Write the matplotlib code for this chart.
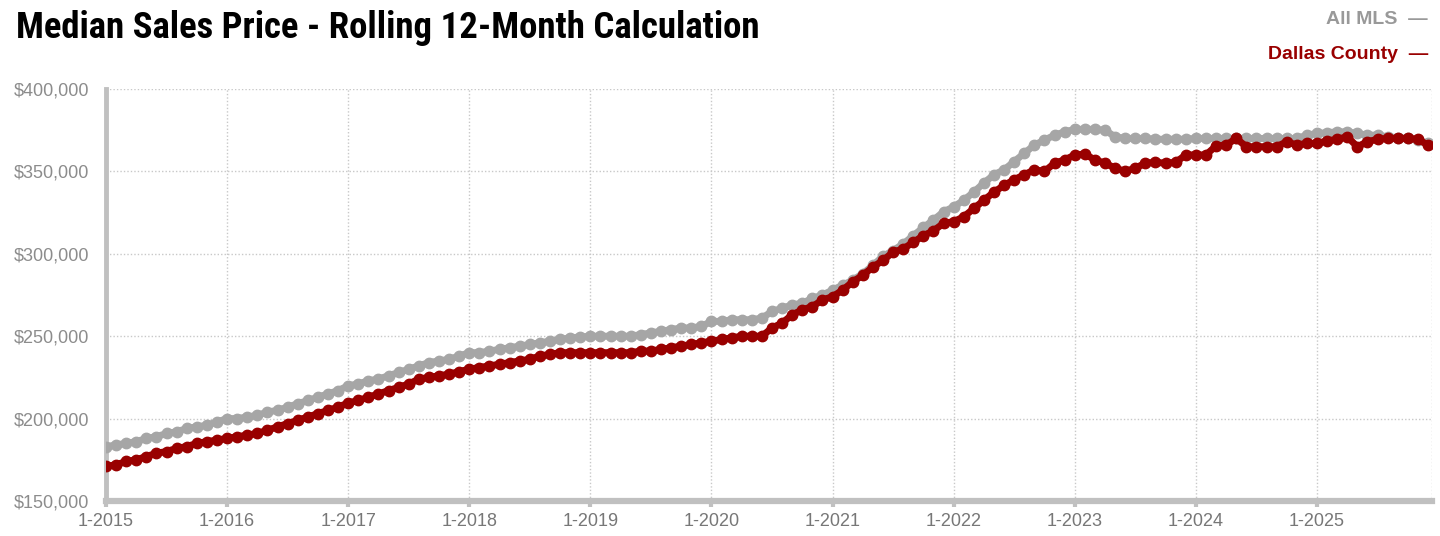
import numpy as np
import matplotlib.pyplot as plt
from matplotlib.ticker import FuncFormatter

# monthly values, 1-2015 .. 12-2025 (in $1,000)
all_mls = [
    183, 184, 185, 186, 188, 189, 191, 192, 194, 195, 196, 198,   # 2015
    200, 200, 201, 202, 204, 205, 207, 209, 211, 213, 215, 217,   # 2016
    220, 221, 223, 224, 226, 228, 230, 232, 234, 235, 236, 238,   # 2017
    240, 240, 241, 242, 243, 244, 245, 246, 247, 248, 249, 249.5, # 2018
    250, 250, 250, 250, 250, 251, 252, 253, 254, 255, 255, 256,   # 2019
    259, 259, 260, 260, 260, 261, 265, 267, 269, 270, 273, 275,   # 2020
    278, 281, 284, 288, 293, 298.5, 302, 306, 311, 316, 320.5, 325.5,  # 2021
    328.5, 332.5, 337.5, 343, 348, 351, 356, 361, 366, 369, 372, 374,  # 2022
    375.5, 375.5, 375.5, 375, 371, 370, 370, 370, 369.5, 369.5, 369.5, 369.5,  # 2023
    370, 370, 370, 370, 370, 370, 370, 370, 370, 370, 370, 372,   # 2024
    373, 373.5, 374, 374, 373, 372, 372, 371, 370.5, 370, 369, 367,  # 2025
]
dallas = [
    171, 172, 174, 175, 177, 179, 180, 182, 183, 185, 186, 187,   # 2015
    188, 189, 190, 191, 193, 195, 197, 199, 201, 203, 205, 207,   # 2016
    209.5, 211, 213, 215, 217, 219, 221, 224, 225, 226, 227, 228.5,  # 2017
    230, 231, 232, 233, 234, 235, 236, 238, 239, 240, 240, 240,   # 2018
    240, 240, 240, 240, 240, 241, 241, 242, 243, 244, 245, 246,   # 2019
    247, 248, 249, 250, 250, 250, 255, 258, 263, 266, 268, 272,   # 2020
    274, 278, 283, 287, 292, 296, 301, 303, 307, 311, 314, 318.5,  # 2021
    319.5, 322.5, 327.5, 332.5, 337.5, 341.5, 345, 348, 351, 350, 355, 357,  # 2022
    360, 360.5, 357, 355, 352, 350, 352, 355, 355.5, 355, 355.5, 360,  # 2023
    360, 360, 365.5, 366, 370, 365, 365, 365, 365, 368, 366, 367,  # 2024
    367, 368.5, 369.5, 371, 365, 368, 369.5, 370, 370, 370, 369.5, 366,  # 2025
]
years = list(range(2015, 2026))
tick_labels = [f"1-{y}" for y in years]

gray = '#a6a6a6'
red = '#990000'

plt.rcParams['font.family'] = ['Liberation Sans', 'DejaVu Sans']

fig = plt.figure(figsize=(14.4, 5.36), dpi=100)
ax = fig.add_axes([106/1440, 35/536, 1326/1440, 412/536])

x = np.arange(len(all_mls))
ax.plot(x, np.array(all_mls)*1000, color=gray, lw=5, marker='o', ms=7.5, zorder=3)
ax.plot(x, np.array(dallas)*1000, color=red, lw=5, marker='o', ms=7.5, zorder=4)

ax.set_xlim(0, 131.4)
ax.set_ylim(150000, 400000)
ax.set_xticks(np.arange(0, 132, 12))
ax.set_xticklabels(tick_labels)
ax.set_yticks(np.arange(150000, 400001, 50000))
ax.yaxis.set_major_formatter(FuncFormatter(lambda v, p: f"${v:,.0f}"))

ax.grid(True, color='#c8c8c8', ls=(0, (1, 1.5)), lw=1)
for s in ['top', 'right']:
    ax.spines[s].set_visible(False)
ax.spines['left'].set_color('#c0c0c0')
ax.spines['left'].set_linewidth(3.5)
ax.spines['bottom'].set_color('#c0c0c0')
ax.spines['bottom'].set_linewidth(4.5)
ax.tick_params(axis='x', colors='#c0c0c0', labelcolor='#777777', labelsize=13,
               length=4, width=3, pad=5)
ax.tick_params(axis='y', length=0, labelcolor='#8c8c8c', labelsize=13, pad=12)
ax.axvline(131.4, color='#c8c8c8', ls=(0, (1, 1.5)), lw=1)

fig.text(16/1440, 1 - 38/536, "Median Sales Price - Rolling 12-Month Calculation",
         family=['Roboto Condensed', 'Liberation Sans'], weight='bold', fontsize=26.5,
         color='black', va='baseline', ha='left')
fig.text(1428/1440, 1 - 24/536, "All MLS  —", weight='bold',
         fontsize=14, color='#999999', ha='right', va='baseline')
fig.text(1428/1440, 1 - 59/536, "Dallas County  —", weight='bold',
         fontsize=14, color=red, ha='right', va='baseline')

fig.savefig('out.png', dpi=100)
